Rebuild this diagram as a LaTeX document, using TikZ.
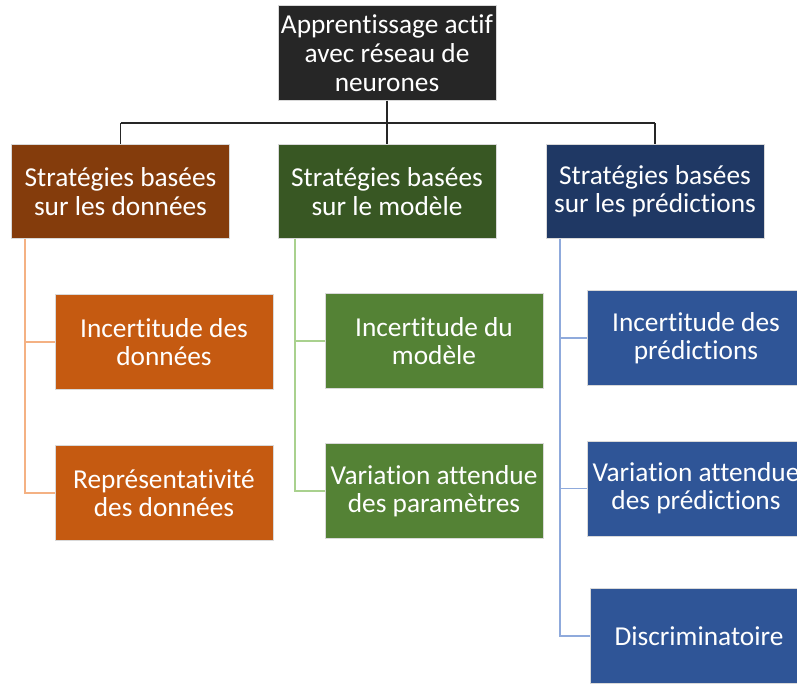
\documentclass[tikz,border=0pt]{standalone}
\usepackage{fontspec}
\setmainfont[Ligatures=NoCommon]{Carlito}
\usetikzlibrary{calc}

\definecolor{topbg}{HTML}{262626}
\definecolor{databg}{HTML}{843C0C}
\definecolor{modelbg}{HTML}{385723}
\definecolor{predbg}{HTML}{1F3864}
\definecolor{datachild}{HTML}{C55A11}
\definecolor{modelchild}{HTML}{548235}
\definecolor{predchild}{HTML}{2F5597}
\definecolor{dataline}{HTML}{F4B183}
\definecolor{modelline}{HTML}{A9D18E}
\definecolor{predline}{HTML}{8FAADC}

\begin{document}
\begin{tikzpicture}[x=0.75pt,y=-0.75pt,
	box/.style={draw=white!85!black,line width=0.5pt,text=white,align=center,
		minimum width=163.5pt,minimum height=71pt,inner sep=0pt,
		font=\fontsize{20.5}{21.3}\selectfont},
	busline/.style={draw=black!85,line width=0.8pt},
	dline/.style={draw=dataline,line width=0.9pt},
	mline/.style={draw=modelline,line width=0.9pt},
	pline/.style={draw=predline,line width=0.9pt}]
	\useasboundingbox (0,0) rectangle (797,684);
	
	\node[box,fill=topbg,font=\fontsize{20.5}{21.8}\selectfont] (root) at (387,53) {Apprentissage actif\\avec réseau de\\neurones};
	
	\node[box,fill=databg] (sd) at (120.5,191.5) {Stratégies basées\\sur les données};
	\node[box,fill=modelbg] (sm) at (387,191.5) {Stratégies basées\\sur le modèle};
	\node[box,fill=predbg] (sp) at (655,191.5) {Stratégies basées\\sur les prédictions};
	
	\coordinate (bus) at (387,123);
	\draw[busline] (root) -- (bus);
	\draw[busline] (bus -| sd) -- (bus -| sp);
	\draw[busline] (bus -| sd) -- (sd);
	\draw[busline] (bus) -- (sm);
	\draw[busline] (bus -| sp) -- (sp);
	
	\node[box,fill=datachild] (di) at (164,342) {Incertitude des\\données};
	\node[box,fill=datachild] (dr) at (164,493) {Représentativité\\des données};
	
	\node[box,fill=modelchild] (mi) at (434,341) {Incertitude du\\modèle};
	\node[box,fill=modelchild] (mv) at (434,491) {Variation attendue\\des paramètres};
	
	\node[box,fill=predchild] (pi) at (696,338) {Incertitude des\\prédictions};
	\node[box,fill=predchild] (pv) at (696,488.5) {Variation attendue\\des prédictions};
	\node[box,fill=predchild] (pd) at (699,636) {Discriminatoire};
	
	\coordinate (dtrunk) at (25,239);
	\coordinate (mtrunk) at (295,239);
	\coordinate (ptrunk) at (560,239);
	\draw[dline] (dtrunk) |- (di.west);
	\draw[dline] (dtrunk) |- (dr.west);
	\draw[mline] (mtrunk) |- (mi.west);
	\draw[mline] (mtrunk) |- (mv.west);
	\draw[pline] (ptrunk) |- (pi.west);
	\draw[pline] (ptrunk) |- (pv.west);
	\draw[pline] (ptrunk) |- (pd.west);
\end{tikzpicture}
\end{document}
